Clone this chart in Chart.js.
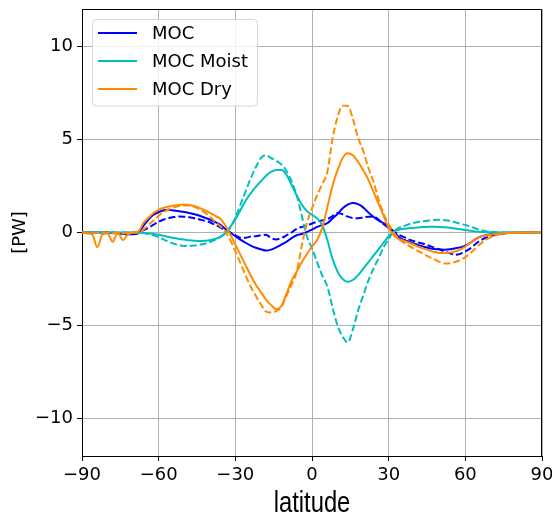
<!DOCTYPE html>
<html lang="en">
<head>
<meta charset="UTF-8">
<title>MOC heat transport</title>
<script src="https://cdn.jsdelivr.net/npm/chart.js"></script>
<style>
  html, body { margin: 0; padding: 0; background: #fff; }
  canvas { display: block; }
</style>
</head>
<body>
<canvas id="chart" width="552" height="515"></canvas>
<script>
// latitude grid (degrees)
var lat = [
  -90,-88,-86,-84,-82,-80,-78,-76,-74,-72,
  -70,-68,-66,-64,-62,-60,-58,-56,-54,-52,
  -50,-48,-46,-44,-42,-40,-38,-36,-34,-32,
  -30,-28,-26,-24,-22,-20,-18,-16,-14,-12,
  -10,-8,-6,-4,-2,0,2,4,6,8,
  10,12,14,16,18,20,22,24,26,28,
  30,32,34,36,38,40,42,44,46,48,
  50,52,54,56,58,60,62,64,66,68,
  70,72,74,76,78,80,82,84,86,88,
  90
];

// MOC, solid / dashed  [PW]
var moc = [
  0, 0, 0, 0, 0, 0, -0.02, -0.05, -0.08, -0.1,
  -0.1, -0.05, 0.35, 0.7, 0.95, 1.1, 1.2, 1.22, 1.18, 1.14,
  1.1, 1.05, 0.98, 0.9, 0.8, 0.7, 0.57, 0.42, 0.2, 0.0,
  -0.2, -0.38, -0.55, -0.7, -0.82, -0.9, -0.97, -0.92, -0.8, -0.65,
  -0.5, -0.3, -0.15, -0.08, 0.03, 0.15, 0.3, 0.4, 0.5, 0.75,
  1.0, 1.3, 1.5, 1.58, 1.52, 1.35, 1.08, 0.85, 0.65, 0.5,
  0.3, 0.05, -0.25, -0.4, -0.5, -0.6, -0.7, -0.78, -0.84, -0.88,
  -0.9, -0.92, -0.9, -0.85, -0.8, -0.7, -0.55, -0.35, -0.22, -0.14,
  -0.09, -0.06, -0.04, -0.03, -0.02, -0.01, 0, 0, 0, 0,
  0
];
var mocDash = [
  0, 0, 0, 0, 0.02, 0.03, 0, -0.03, -0.05, -0.05,
  -0.05, 0.0, 0.12, 0.25, 0.42, 0.58, 0.7, 0.78, 0.83, 0.86,
  0.85, 0.82, 0.77, 0.7, 0.63, 0.55, 0.42, 0.28, 0.12, 0.0,
  -0.15, -0.28, -0.28, -0.22, -0.2, -0.15, -0.12, -0.3, -0.37, -0.3,
  -0.15, 0.0, 0.2, 0.3, 0.38, 0.48, 0.58, 0.65, 0.72, 0.88,
  1.05, 0.98, 0.85, 0.78, 0.77, 0.8, 0.85, 0.85, 0.7, 0.45,
  0.25, 0.05, -0.12, -0.25, -0.38, -0.47, -0.55, -0.62, -0.72, -0.82,
  -0.92, -1.02, -1.12, -1.2, -1.15, -1.02, -0.85, -0.62, -0.42, -0.28,
  -0.18, -0.12, -0.07, -0.04, -0.02, -0.01, 0, 0, 0, 0,
  0
];

// MOC Moist
var moist = [
  0, 0, 0, 0, 0, 0, 0, 0, 0, 0,
  0, 0, -0.02, -0.05, -0.08, -0.12, -0.18, -0.24, -0.3, -0.35,
  -0.38, -0.42, -0.44, -0.45, -0.44, -0.42, -0.35, -0.25, -0.05, 0.3,
  0.7, 1.2, 1.7, 2.1, 2.45, 2.75, 3.05, 3.25, 3.35, 3.35,
  3.1, 2.55, 2.0, 1.5, 1.15, 0.95, 0.75, 0.4, -0.4, -1.4,
  -2.1, -2.5, -2.65, -2.55, -2.3, -1.95, -1.6, -1.25, -0.9, -0.55,
  -0.2, 0.05, 0.15, 0.2, 0.23, 0.26, 0.28, 0.3, 0.31, 0.31,
  0.3, 0.28, 0.25, 0.21, 0.17, 0.13, 0.09, 0.05, 0.03, 0.02,
  0.01, 0, 0, 0, 0, 0, 0, 0, 0, 0,
  0
];
var moistDash = [
  0, 0, 0, 0, 0, 0, 0, 0, 0, 0,
  0, 0, -0.03, -0.08, -0.15, -0.25, -0.38, -0.5, -0.6, -0.68,
  -0.72, -0.72, -0.7, -0.66, -0.6, -0.52, -0.4, -0.25, -0.05, 0.25,
  0.8, 1.5, 2.2, 2.9, 3.5, 4.0, 4.15, 4.0, 3.85, 3.65,
  3.3, 2.75, 2.0, 0.9, -0.2, -0.85, -1.6, -2.3, -2.9, -4.0,
  -5.0, -5.6, -5.9, -5.2, -4.2, -3.4, -2.6, -1.95, -1.4, -0.8,
  -0.35, 0.05, 0.25, 0.35, 0.45, 0.52, 0.58, 0.62, 0.65, 0.67,
  0.68, 0.66, 0.62, 0.55, 0.47, 0.4, 0.32, 0.22, 0.13, 0.07,
  0.04, 0.02, 0.01, 0, 0, 0, 0, 0, 0, 0,
  0
];

// MOC Dry
var dry = [
  0, -0.05, -0.1, -0.8, -0.1, -0.05, -0.5, 0, -0.4, -0.1,
  0.0, 0.05, 0.5, 0.8, 1.05, 1.22, 1.33, 1.4, 1.45, 1.48,
  1.5, 1.48, 1.42, 1.32, 1.2, 1.05, 0.9, 0.75, 0.4, -0.1,
  -0.65, -1.2, -1.75, -2.3, -2.8, -3.2, -3.6, -3.9, -4.12, -3.95,
  -3.3, -2.6, -2.1, -1.6, -1.15, -0.75, -0.4, 0.25, 1.35, 2.5,
  3.35, 4.0, 4.25, 4.15, 3.8, 3.35, 2.85, 2.2, 1.55, 0.9,
  0.25, -0.15, -0.35, -0.45, -0.55, -0.66, -0.78, -0.88, -0.97, -1.05,
  -1.1, -1.1, -1.08, -1.02, -0.92, -0.75, -0.55, -0.35, -0.22, -0.15,
  -0.12, -0.08, -0.05, -0.03, -0.02, -0.01, 0, 0, 0, 0,
  0
];
var dryDash = [
  0, 0, 0, -0.02, 0, 0, -0.05, 0, -0.05, 0,
  0, 0, 0.15, 0.4, 0.65, 0.9, 1.1, 1.25, 1.35, 1.42,
  1.45, 1.45, 1.38, 1.25, 1.08, 0.85, 0.6, 0.35, 0.05, -0.4,
  -1.0, -1.65, -2.3, -2.9, -3.4, -3.85, -4.25, -4.3, -4.22, -4.0,
  -3.4, -2.8, -2.1, -0.7, 0.5, 1.3, 2.0, 2.6, 3.25, 5.0,
  6.2, 6.8, 6.8, 6.1, 5.1, 4.4, 3.5, 2.75, 1.8, 1.0,
  0.45, 0.0, -0.35, -0.55, -0.72, -0.88, -1.03, -1.18, -1.32, -1.45,
  -1.58, -1.66, -1.65, -1.58, -1.48, -1.32, -1.1, -0.85, -0.6, -0.4,
  -0.25, -0.15, -0.08, -0.04, -0.02, -0.01, 0, 0, 0, 0,
  0
];

var xTicks = [-90, -60, -30, 0, 30, 60, 90];
var yTicks = [-10, -5, 0, 5, 10];
var xTitle = 'latitude';

var BLUE = '#0000ff', CYAN = '#00bfbf', ORANGE = '#ff8c00';
var tickFont = { family: 'DejaVu Sans', size: 18 };

function pts(vals) {
  return lat.map(function (x, i) { return { x: x, y: vals[i] }; });
}
function minusSign(v) {
  return String(v).replace('-', '\u2212');
}

function series(label, vals, color, dashed, order) {
  return {
    label: label,
    data: pts(vals),
    borderColor: color,
    borderWidth: 2,
    borderDash: dashed ? [7, 3] : [],
    fill: false,
    pointRadius: 0,
    cubicInterpolationMode: 'monotone',
    order: order,
    inLegend: !dashed
  };
}

// legend box drawn inside the plot, top-left
var boxLegend = {
  id: 'boxLegend',
  afterDatasetsDraw: function (chart) {
    var ctx = chart.ctx;
    var items = chart.data.datasets.filter(function (d) { return d.inLegend; });
    ctx.save();
    ctx.beginPath();
    ctx.roundRect(92.5, 19.5, 165, 86.5, 4);
    ctx.fillStyle = 'rgba(255,255,255,0.8)';
    ctx.fill();
    ctx.strokeStyle = '#d5d5d5';
    ctx.lineWidth = 1;
    ctx.stroke();
    ctx.font = '18px "DejaVu Sans"';
    ctx.textBaseline = 'middle';
    items.forEach(function (d, i) {
      var y = 33 + i * 28;
      ctx.beginPath();
      ctx.moveTo(98, y);
      ctx.lineTo(137, y);
      ctx.strokeStyle = d.borderColor;
      ctx.lineWidth = 2;
      ctx.stroke();
      ctx.fillStyle = '#000';
      ctx.fillText(d.label, 152, y + 1);
    });
    ctx.restore();
  }
};

// top and right spines, plus the narrow x-axis title
var frame = {
  id: 'frame',
  afterDraw: function (chart) {
    var a = chart.chartArea, ctx = chart.ctx;
    ctx.save();
    ctx.strokeStyle = '#000';
    ctx.lineWidth = 1;
    ctx.beginPath();
    ctx.moveTo(a.left, a.top + 0.5);
    ctx.lineTo(a.right - 0.5, a.top + 0.5);
    ctx.lineTo(a.right - 0.5, a.bottom);
    ctx.stroke();

    ctx.translate((a.left + a.right) / 2, 512);
    ctx.scale(0.82, 1);
    ctx.font = '29px "Liberation Sans"';
    ctx.fillStyle = '#000';
    ctx.textAlign = 'center';
    ctx.textBaseline = 'alphabetic';
    ctx.fillText(xTitle, 0, 0);
    ctx.restore();
  }
};

var ctx = document.getElementById('chart').getContext('2d');
var chart = new Chart(ctx, {
  type: 'line',
  data: {
    datasets: [
      series('MOC', moc, BLUE, false, 6),
      series('', mocDash, BLUE, true, 5),
      series('MOC Moist', moist, CYAN, false, 4),
      series('', moistDash, CYAN, true, 3),
      series('MOC Dry', dry, ORANGE, false, 2),
      series('', dryDash, ORANGE, true, 1)
    ]
  },
  options: {
    responsive: false,
    animation: false,
    devicePixelRatio: 1,
    layout: { padding: { top: 9, right: 10, left: 0, bottom: 0 } },
    plugins: { legend: { display: false }, tooltip: { enabled: false } },
    scales: {
      x: {
        type: 'linear',
        min: -90,
        max: 90,
        afterBuildTicks: function (s) { s.ticks = xTicks.map(function (v) { return { value: v }; }); },
        afterFit: function (s) { s.height = 59; s.paddingLeft = 0; s.paddingRight = 0; },
        grid: { color: '#b0b0b0', lineWidth: 1, tickColor: '#000', tickLength: 5 },
        border: { color: '#000', width: 1 },
        ticks: { font: tickFont, color: '#000', padding: 4, maxRotation: 0, autoSkip: false, callback: minusSign },
        title: { display: false }
      },
      y: {
        type: 'linear',
        min: -12,
        max: 12,
        afterBuildTicks: function (s) { s.ticks = yTicks.map(function (v) { return { value: v }; }); },
        afterFit: function (s) { s.width = 82; s.paddingTop = 0; s.paddingBottom = 0; },
        grid: { color: '#b0b0b0', lineWidth: 1, tickColor: '#000', tickLength: 5 },
        border: { color: '#000', width: 1 },
        ticks: { font: tickFont, color: '#000', padding: 4, autoSkip: false, callback: minusSign },
        title: {
          display: true,
          text: '[PW]',
          color: '#000',
          font: { family: 'DejaVu Sans', size: 18 },
          padding: { top: 10, bottom: 0 }
        }
      }
    }
  },
  plugins: [boxLegend, frame]
});
</script>
</body>
</html>
